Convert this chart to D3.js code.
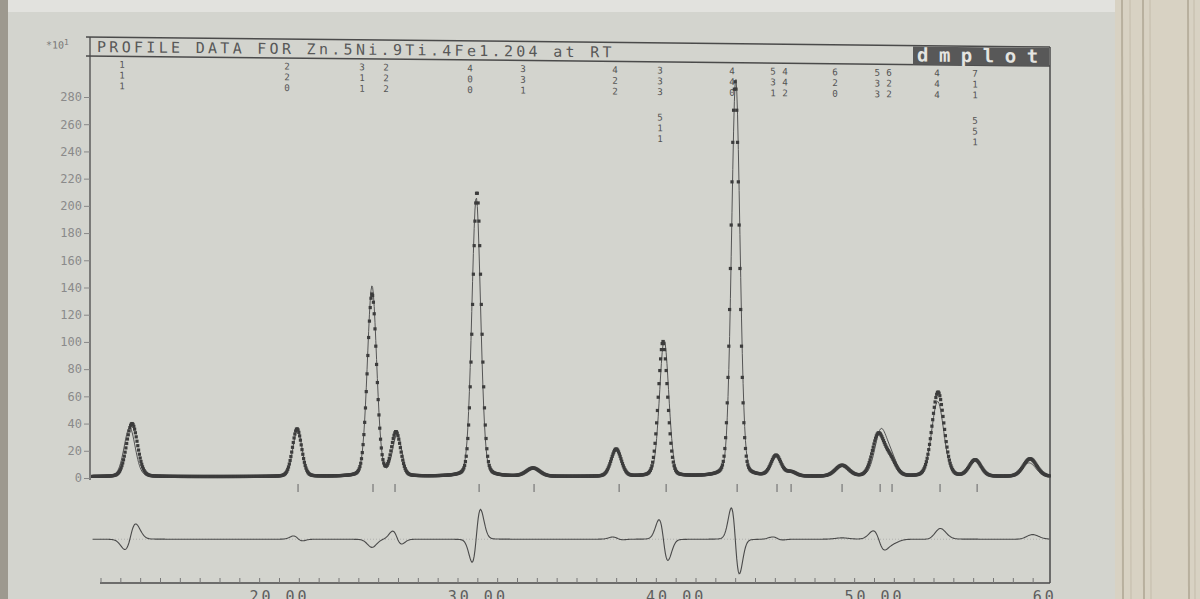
<!DOCTYPE html>
<html>
<head>
<meta charset="utf-8">
<script src="https://cdn.jsdelivr.net/npm/d3@7/dist/d3.min.js"></script>
<style>
body { margin: 0; background: #d3d4ce; }
svg text { font-family: "DejaVu Sans Mono", monospace; }
</style>
</head>
<body>
<svg id="chart" width="1200" height="599"></svg>
<script>
var peakPos   = [12.59, 20.91, 24.69, 25.90, 29.98, 32.81, 37.00, 39.36, 43.00, 45.06, 45.82, 48.39, 50.21, 50.81, 53.23, 55.10, 57.87];
var peakObs   = [39, 35, 134, 32, 209, 6, 20, 99, 290, 15, 3, 8, 30, 12, 62, 12, 13];
var peakFwhm  = [0.66, 0.55, 0.55, 0.55, 0.52, 0.8, 0.6, 0.55, 0.5, 0.6, 0.6, 0.8, 0.7, 0.7, 0.72, 0.7, 0.8];
// calculated profile: peak shift and height of the fit
var calcShift = [-0.12, 0.02, 0.0, 0.06, -0.035, 0, 0.02, 0.06, 0.03, 0.03, 0, 0, 0.12, 0.05, -0.02, 0, -0.05];
var peakCalc  = [36, 34, 140, 30, 205, 6, 19, 100, 292, 14, 3, 7, 32, 13, 55, 12, 10];
var background = 1;

// bragg position markers under the pattern
var braggPos = [20.96, 24.74, 25.85, 30.09, 32.86, 37.15, 39.52, 43.10, 45.11, 45.82, 48.39, 50.31, 50.91, 53.33, 55.20];

// hkl labels at the top
var hklText = ["111", "220", "311", "222", "400", "331", "422", "333", "511", "440", "531", "442", "620", "533", "622", "444", "711", "551"];
var hklPos  = [12.08, 20.40, 24.19, 25.40, 29.63, 32.30, 36.94, 39.21, 39.21, 42.84, 44.91, 45.51, 48.04, 50.16, 50.76, 53.18, 55.10, 55.10];
var hklRow  = [0, 0, 0, 0, 0, 0, 0, 0, 1, 0, 0, 0, 0, 0, 0, 0, 0, 1];

var yTicks = [0, 20, 40, 60, 80, 100, 120, 140, 160, 180, 200, 220, 240, 260, 280];
var xMajor = [20, 30, 40, 50, 60];
var title = "PROFILE DATA FOR Zn.5Ni.9Ti.4Fe1.204 at RT";
var diffZero = -45;

var svg = d3.select("#chart");

// photo of the page: darker edge on the left, book pages on the right
svg.append("rect").attr("x", 0).attr("y", 0).attr("width", 1200).attr("height", 599).attr("fill", "#d3d4ce");
svg.append("rect").attr("x", 0).attr("y", 0).attr("width", 1200).attr("height", 12).attr("fill", "#e2e2de");
svg.append("rect").attr("x", 0).attr("y", 0).attr("width", 8).attr("height", 599).attr("fill", "#9d998f");
svg.append("rect").attr("x", 1115).attr("y", 0).attr("width", 85).attr("height", 599).attr("fill", "#d8d2c3");
[1122, 1130, 1143, 1150, 1188, 1194].forEach(function(px, i) {
    svg.append("line").attr("x1", px).attr("x2", px + 1).attr("y1", 0).attr("y2", 599)
        .attr("stroke", i % 2 ? "#c4bcab" : "#b8b09e").attr("stroke-width", i % 2 ? 1 : 2);
});

var x = d3.scaleLinear().domain([20, 50]).range([279, 874]);
var y = d3.scaleLinear().domain([0, 280]).range([478, 97]);

var grid = d3.range(10.6, 58.86, 0.04);

function pv(t, c, h, w) {
    var s = w / 2.3548;
    var g = Math.exp(-0.5 * Math.pow((t - c) / s, 2));
    var l = 1 / (1 + Math.pow((t - c) / (w / 2), 2));
    return h * (0.85 * g + 0.15 * l);
}

var pts = grid.map(function(t) {
    var o = background, c = background;
    for (var i = 0; i < peakPos.length; i++) {
        o += pv(t, peakPos[i], peakObs[i], peakFwhm[i]);
        c += pv(t, peakPos[i] + calcShift[i], peakCalc[i], peakFwhm[i]);
    }
    return {t: t, obs: o, calc: c, diff: o - c};
});

var ink = "#4a4a4a";

// header box with title and dmplot badge (the paper bends a little here)
var head = svg.append("g").attr("transform", "skewY(0.6)");
head.append("line").attr("x1", 86).attr("x2", 1050).attr("y1", 36).attr("y2", 36).attr("stroke", ink).attr("stroke-width", 1.5);
head.append("line").attr("x1", 86).attr("x2", 1050).attr("y1", 55).attr("y2", 55).attr("stroke", ink).attr("stroke-width", 1.5);
head.append("rect").attr("x", 913).attr("y", 37).attr("width", 136).attr("height", 18).attr("fill", "#585858");
head.append("text").attr("x", 917).attr("y", 52).attr("font-size", 19).attr("font-weight", "bold")
    .attr("letter-spacing", 10.5).attr("fill", "#e4e4e0").text("dmplot");
head.append("text").attr("x", 97).attr("y", 51).attr("font-size", 15).attr("letter-spacing", 3.3)
    .attr("fill", "#585858").text(title);
var mult = head.append("text").attr("x", 46).attr("y", 48).attr("font-size", 10).attr("fill", "#777");
mult.append("tspan").text("*10");
mult.append("tspan").attr("dy", -4).attr("font-size", 8).text("1");

// hkl digits stacked vertically, one small text per digit
var hkl = head.append("g").attr("fill", "#555").attr("font-size", 9.2).attr("text-anchor", "middle");
hklText.forEach(function(s, i) {
    s.split("").forEach(function(ch, j) {
        hkl.append("text").attr("x", x(hklPos[i]))
            .attr("y", 66.5 + hklRow[i] * 47 + j * 10.8).text(ch);
    });
});

// frame
svg.append("line").attr("x1", 90).attr("x2", 90).attr("y1", 37).attr("y2", 480).attr("stroke", ink).attr("stroke-width", 1.3);
svg.append("line").attr("x1", 1050).attr("x2", 1050).attr("y1", 47).attr("y2", 583).attr("stroke", ink).attr("stroke-width", 1.5);

// y axis
var yAxis = svg.append("g").attr("transform", "translate(90,0)")
    .call(d3.axisLeft(y).tickValues(yTicks).tickSize(6).tickPadding(2));
yAxis.select(".domain").remove();
yAxis.selectAll("line").attr("stroke", "#888");
yAxis.selectAll("text").attr("font-size", 12).attr("fill", "#8a8a8a").attr("font-family", "DejaVu Sans Mono, monospace");

// x axis at the very bottom, ticks pointing up
svg.append("clipPath").attr("id", "xclip").append("rect").attr("x", 0).attr("y", 0).attr("width", 1056).attr("height", 599);
var xMinor = svg.append("g").attr("transform", "translate(0,583)")
    .call(d3.axisBottom(x).tickValues(d3.range(11, 59)).tickSize(-5).tickFormat(""));
xMinor.select(".domain").attr("stroke", ink).attr("stroke-width", 1.6).attr("d", "M100,0H1050");
xMinor.selectAll("line").attr("stroke", "#777");
var xMaj = svg.append("g").attr("transform", "translate(0,583)").attr("clip-path", "url(#xclip)")
    .call(d3.axisBottom(x).tickValues(xMajor).tickSize(-9).tickPadding(8).tickFormat(d3.format(".2f")));
xMaj.select(".domain").remove();
xMaj.selectAll("line").attr("stroke", "#666");
xMaj.selectAll("text").attr("font-size", 15).attr("letter-spacing", 3).attr("fill", "#5e5e5e")
    .attr("font-family", "DejaVu Sans Mono, monospace");
xMaj.selectAll(".tick").filter(function(d) { return d > 58.9; }).select("line").remove();
xMaj.selectAll(".tick").filter(function(d) { return d > 58.9; }).select("text").attr("x", -10);

// calculated profile
svg.append("path").datum(pts)
    .attr("d", d3.line().x(function(d) { return x(d.t); }).y(function(d) { return y(d.calc); }))
    .attr("fill", "none").attr("stroke", "#555").attr("stroke-width", 1);

// observed points
svg.append("g").selectAll("rect").data(pts).enter().append("rect")
    .attr("x", function(d) { return x(d.t) - 1.6; })
    .attr("y", function(d) { return y(d.obs) - 1.6; })
    .attr("width", 3.2).attr("height", 3.2)
    .attr("fill", "#3c3c3c");

// bragg markers
svg.append("g").selectAll("line").data(braggPos).enter().append("line")
    .attr("x1", function(d) { return x(d); }).attr("x2", function(d) { return x(d); })
    .attr("y1", 484).attr("y2", 492).attr("stroke", "#777").attr("stroke-width", 1.2);

// difference curve
svg.append("line").attr("x1", 100).attr("x2", 1050).attr("y1", y(diffZero)).attr("y2", y(diffZero))
    .attr("stroke", "#9a9a9a").attr("stroke-width", 0.6).attr("stroke-dasharray", "1,2");
svg.append("path").datum(pts)
    .attr("d", d3.line().x(function(d) { return x(d.t); }).y(function(d) { return y(d.diff + diffZero); }))
    .attr("fill", "none").attr("stroke", "#4a4a4a").attr("stroke-width", 1.1);
</script>
</body>
</html>
